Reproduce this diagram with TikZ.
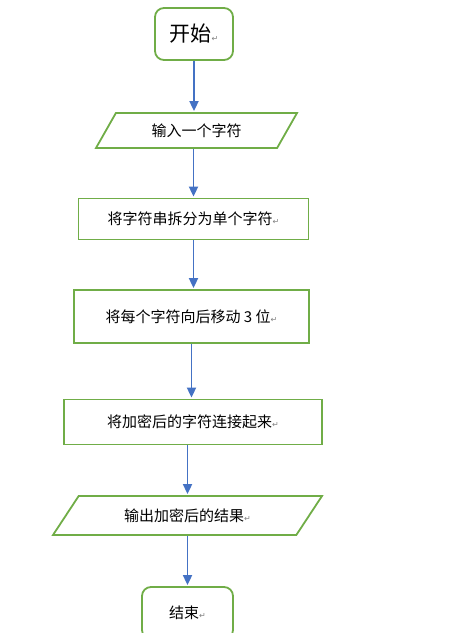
\documentclass[tikz,border=0pt]{standalone}
\usepackage{fontspec}
\newfontfamily\cjk{Noto Sans CJK SC}
\newfontfamily\markfont{DejaVu Sans}
\usetikzlibrary{arrows.meta,shapes.geometric}
\definecolor{boxgreen}{HTML}{70AD47}
\definecolor{flowblue}{HTML}{4472C4}
\newcommand{\pmark}{{\markfont\fontsize{8}{8}\selectfont\textcolor{gray}{↵}}}
\tikzset{
    box/.style={draw=boxgreen, line width=1.8pt, inner sep=2pt,
        font=\cjk\fontsize{15}{18}\selectfont},
    term/.style={box, rounded corners=9pt},
    io/.style={box, trapezium, trapezium stretches body},
    flow/.style={draw=flowblue, line width=1.8pt, -{Triangle[length=10pt,width=9pt]}, shorten >=1pt}
}
\begin{document}
\begin{tikzpicture}[x=1pt, y=-1pt]
    \useasboundingbox (0,0) rectangle (458,633);
    \node[term, minimum width=78pt, minimum height=52pt, font=\cjk\fontsize{21}{24}\selectfont]
        (start) at (194,34) {开始\pmark};
    \node[io, trapezium left angle=42, trapezium right angle=138,
        minimum width=201pt, minimum height=35pt] (in) at (196.5,130.5) {输入一个字符};
    \node[box, minimum width=230pt, minimum height=41pt] (split) at (193.5,219) {将字符串拆分为单个字符\pmark};
    \node[box, minimum width=235pt, minimum height=53pt] (shift) at (191.5,316.5) {将每个字符向后移动 3 位\pmark};
    \node[box, minimum width=258pt, minimum height=45pt] (join) at (193,422) {将加密后的字符连接起来\pmark};
    \node[io, trapezium left angle=35, trapezium right angle=145,
        minimum width=269pt, minimum height=39pt] (out) at (187.5,515.5) {输出加密后的结果\pmark};
    \node[term, minimum width=91pt, minimum height=52pt] (stop) at (187.5,613) {结束\pmark};

    \draw[flow] (start.south) -- (start.south |- in.north);
    \draw[flow] (split.north |- in.south) -- (split.north);
    \draw[flow] (split.south) -- (split.south |- shift.north);
    \draw[flow] (shift.south) -- (shift.south |- join.north);
    \draw[flow] (join.south -| out.north) -- (out.north);
    \draw[flow] (out.south) -- (out.south |- stop.north);
\end{tikzpicture}
\end{document}
